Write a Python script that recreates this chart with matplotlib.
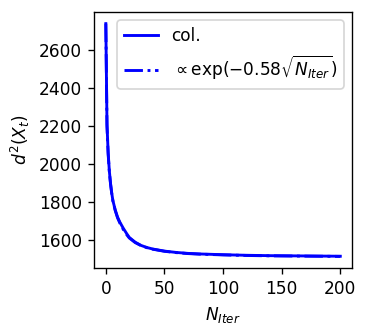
import matplotlib
matplotlib.use("Agg")
import matplotlib.pyplot as plt

# values
n_iter = [0, 1, 2, 3, 4, 5, 6, 8, 10, 12, 15, 18, 20, 25, 30, 35, 40, 50,
          60, 70, 80, 100, 120, 140, 160, 180, 200]
d2_col = [2740, 2210, 2060, 1965, 1900, 1850, 1810, 1760, 1722, 1695, 1662,
          1633, 1615, 1590, 1573, 1562, 1554, 1543, 1536, 1531, 1528, 1524,
          1521, 1519, 1518, 1517, 1516]
d2_fit = [2740, 2200, 2052, 1960, 1897, 1848, 1808, 1757, 1718, 1690, 1656,
          1628, 1612, 1588, 1572, 1561, 1553, 1542, 1535, 1530, 1527, 1523,
          1520, 1518, 1517, 1516, 1515]

dpi = 122
fig = plt.figure(figsize=(369 / dpi, 333 / dpi), dpi=dpi)
ax = fig.add_axes([0.255, 0.195, 0.699, 0.769])
ax.plot(n_iter, d2_col, '-', color='blue', lw=1.7, label='col.')
ax.plot(n_iter, d2_fit, '-.', color='blue', lw=1.7,
        label=r'$\propto \exp(-0.58\sqrt{N_{Iter}})$')
ax.set_xticks([0, 50, 100, 150, 200])
ax.set_yticks([1600, 1800, 2000, 2200, 2400, 2600])
ax.set_xlabel(r'$N_{Iter}$')
ax.set_ylabel(r'$d^2(X_t)$')
ax.legend(loc='upper right')
fig.savefig('out.png', dpi=dpi)
